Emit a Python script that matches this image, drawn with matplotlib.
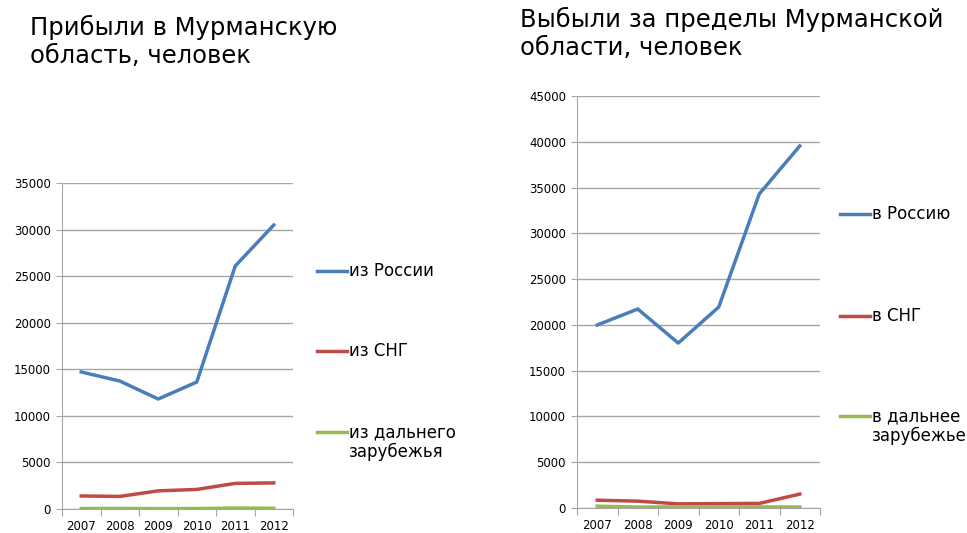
import matplotlib.pyplot as plt
from matplotlib.lines import Line2D
import numpy as np

years = ["2007", "2008", "2009", "2010", "2011", "2012"]

# Прибыли
in_russia = [14710, 13740, 11810, 13630, 26090, 30490]
in_cis = [1400, 1350, 1950, 2100, 2750, 2800]
in_abroad = [50, 60, 40, 50, 100, 80]
in_labels = ["из России", "из СНГ", "из дальнего\nзарубежья"]

# Выбыли
out_russia = [19990, 21730, 18020, 21950, 34300, 39540]
out_cis = [850, 750, 450, 480, 500, 1520]
out_abroad = [200, 100, 120, 120, 120, 110]
out_labels = ["в Россию", "в СНГ", "в дальнее\nзарубежье"]

blue = "#4A7EBB"
red = "#BE4B48"
green = "#98B954"
grid_c = "#A6A6A6"

plt.rcParams["font.family"] = ["DejaVu Sans"]

W, H = 967, 533
fig = plt.figure(figsize=(W / 100, H / 100), dpi=100)


def setup(ax, ymax):
    x = np.arange(len(years))
    ax.set_xlim(-0.5, len(years) - 0.5)
    ax.set_ylim(0, ymax)
    ax.set_yticks(np.arange(0, ymax + 1, 5000))
    ax.yaxis.grid(True, color=grid_c, lw=1)
    ax.set_axisbelow(True)
    ax.set_xticks(np.arange(-0.5, len(years)), minor=False)
    ax.set_xticklabels([])
    ax.set_xticks(x, minor=True)
    ax.set_xticklabels(years, minor=True)
    ax.tick_params(axis="x", which="minor", length=0, labelsize=8.5, pad=8)
    ax.tick_params(axis="x", which="major", length=5, color=grid_c)
    ax.tick_params(axis="y", length=4, color=grid_c, labelsize=8.5, pad=4)
    for s in ["top", "right"]:
        ax.spines[s].set_visible(False)
    ax.spines["left"].set_color(grid_c)
    ax.spines["bottom"].set_color(grid_c)
    return x


def legend(x0, ys, labels, colors):
    # легенда: линия слева, текст сразу после неё
    for y, lab, c in zip(ys, labels, colors):
        fig.add_artist(Line2D([x0 / W, (x0 + 30) / W], [1 - y / H, 1 - y / H],
                              color=c, lw=2.5, transform=fig.transFigure))
        first, *rest = lab.split("\n")
        fig.text((x0 + 32) / W, 1 - y / H, first, fontsize=12, va="center")
        for i, line in enumerate(rest):
            fig.text((x0 + 32) / W, 1 - (y + 20 * (i + 1)) / H, line,
                     fontsize=12, va="center")


# Левый график
ax1 = fig.add_axes([62 / W, 1 - 509 / H, (293 - 62) / W, (509 - 183) / H])
x = setup(ax1, 35000)
ax1.plot(x, in_russia, color=blue, lw=2.5)
ax1.plot(x, in_cis, color=red, lw=2.5)
ax1.plot(x, in_abroad, color=green, lw=2.5)
legend(317, [271, 351, 432], in_labels, [blue, red, green])

fig.text(30 / W, 1 - 15 / H, "Прибыли в Мурманскую\nобласть, человек",
         fontsize=17.5, va="top", ha="left", linespacing=1.2)

# Правый график
ax2 = fig.add_axes([577 / W, 1 - 508 / H, (820 - 577) / W, (508 - 96) / H])
x = setup(ax2, 45000)
ax2.plot(x, out_russia, color=blue, lw=2.5)
ax2.plot(x, out_cis, color=red, lw=2.5)
ax2.plot(x, out_abroad, color=green, lw=2.5)
legend(840, [214, 316, 416], out_labels, [blue, red, green])

fig.text(520 / W, 1 - 7 / H, "Выбыли за пределы Мурманской\nобласти, человек",
         fontsize=17.5, va="top", ha="left", linespacing=1.2)

fig.savefig("out.png", dpi=100)
